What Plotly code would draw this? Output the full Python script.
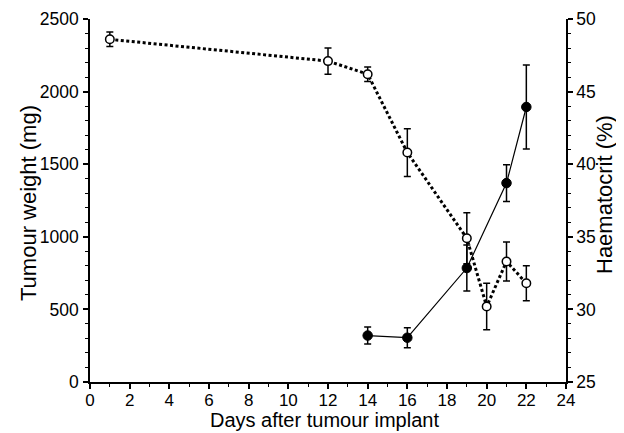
import plotly.graph_objects as go

# Tumour weight (filled circles, solid line)
tw_days = [14, 16, 19, 21, 22]
tw_mg = [320, 305, 785, 1370, 1894]
tw_err = [58, 69, 158, 127, 289]

# Haematocrit (open circles, dotted line)
hct_days = [1, 12, 14, 16, 19, 20, 21, 22]
hct_pct = [48.6, 47.1, 46.2, 40.8, 34.9, 30.2, 33.3, 31.8]
hct_err = [0.5, 0.9, 0.5, 1.65, 1.75, 1.6, 1.35, 1.2]

x_ticks = list(range(0, 25, 2))
y_ticks = [0, 500, 1000, 1500, 2000, 2500]
y2_ticks = [25, 30, 35, 40, 45, 50]

FONT = "Liberation Sans"

# page offset of the figure (default body margin)
OFF = 8
PL, PR, PT, PB = 90, 566, 19, 382  # plot area in page pixels
W, H = 624, 433

fig = go.Figure()

fig.add_trace(go.Scatter(
    x=tw_days, y=tw_mg, mode="lines+markers", yaxis="y",
    line=dict(color="black", width=1.2),
    marker=dict(symbol="circle", size=9.5, color="black", line=dict(color="black", width=1)),
    error_y=dict(type="data", array=tw_err, visible=True, color="black", thickness=1.5, width=3.5),
    cliponaxis=False, showlegend=False,
))

fig.add_trace(go.Scatter(
    x=hct_days, y=hct_pct, mode="lines+markers", yaxis="y2",
    line=dict(color="black", width=3, dash="3px,2.5px"),
    marker=dict(symbol="circle", size=8.5, color="white", line=dict(color="black", width=1.5)),
    error_y=dict(type="data", array=hct_err, visible=True, color="black", thickness=1.5, width=3.5),
    cliponaxis=False, showlegend=False,
))

axis_common = dict(
    showgrid=False, zeroline=False, showline=True, linecolor="black", linewidth=1.5,
    ticks="outside", ticklen=5, tickwidth=1.5, tickcolor="black",
    tickfont=dict(family=FONT, size=17.5, color="black"),
    automargin=False,
)

pw, ph = PR - PL, PB - PT

fig.update_layout(
    width=W, height=H,
    margin=dict(l=PL - OFF, r=W - (PR - OFF), t=PT - OFF, b=H - (PB - OFF)),
    paper_bgcolor="white", plot_bgcolor="white",
    font=dict(family=FONT, color="black"),
    xaxis=dict(
        range=[0, 24], tickvals=x_ticks, ticktext=[str(v) for v in x_ticks],
        minor=dict(dtick=1, ticklen=3, tickwidth=1.2, tickcolor="black", ticks="outside"),
        ticklabelstandoff=-3,
        **dict(axis_common, tickfont=dict(family=FONT, size=17, color="black")),
    ),
    yaxis=dict(
        range=[0, 2500], tickvals=y_ticks, ticktext=[str(v) for v in y_ticks],
        minor=dict(dtick=100, ticklen=3, tickwidth=1.2, tickcolor="black", ticks="outside"),
        ticklabelstandoff=1,
        **axis_common,
    ),
    yaxis2=dict(
        range=[25, 50], tickvals=y2_ticks, ticktext=[str(v) for v in y2_ticks],
        overlaying="y", side="right", anchor="x",
        minor=dict(dtick=1, ticklen=3, tickwidth=1.2, tickcolor="black", ticks="outside"),
        **axis_common,
    ),
    annotations=[
        dict(text="Days after tumour implant", xref="paper", yref="paper",
             x=(324 - PL) / pw, y=(PB - 408) / ph, xanchor="center", yanchor="top",
             borderpad=0, showarrow=False, font=dict(family=FONT, size=20, color="black")),
        dict(text="Tumour weight (mg)", xref="paper", yref="paper",
             x=(28 - PL) / pw, y=(PB - 203) / ph, xanchor="center", yanchor="middle",
             textangle=-90, showarrow=False, font=dict(family=FONT, size=22, color="black")),
        dict(text="Haematocrit (%)", xref="paper", yref="paper",
             x=(604 - PL) / pw, y=(PB - 195) / ph, xanchor="center", yanchor="middle",
             textangle=-90, showarrow=False, font=dict(family=FONT, size=22, color="black")),
    ],
)

fig.write_html("out.html")
